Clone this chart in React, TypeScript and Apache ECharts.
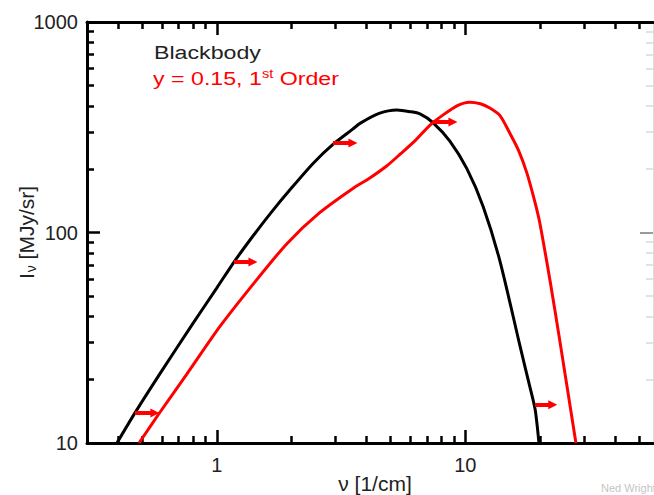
import React, { useEffect, useRef } from "react";
import * as echarts from "echarts";

// ---- data ----
const blackbodyNu = [0.396, 0.468, 0.6, 0.8, 1.0, 1.172, 1.4, 1.65, 2.0, 2.45, 2.934, 3.5, 3.77, 4.5, 5.31, 6.0, 6.57, 7.41, 8.67, 10.15, 11.8, 13.8, 16.6, 18.0, 19.1, 19.8];
const blackbodyI = [10, 13.9, 22.0, 36.9, 54.6, 72.4, 96.5, 124, 163, 214, 262, 308, 330, 368, 382, 375, 366, 333, 272, 201, 133, 73, 29, 19.5, 14.5, 10];

const szNu = [0.486, 0.59, 0.758, 1.029, 1.411, 1.914, 2.6, 3.53, 4.1, 4.84, 5.5, 6.3, 7.2, 8.2, 9.3, 10.4, 11.5, 12.56, 13.8, 15.1, 16.4, 17.7, 19.0, 19.96, 22.0, 24.1, 27.9];
const szI = [10, 14.0, 21.3, 35.8, 57.5, 88.5, 124.5, 162, 180.5, 207.5, 237, 274, 323, 364, 401, 416, 409, 390, 359, 297, 245, 192, 142, 111, 58, 29.9, 10];

const arrowStartNu = [0.468, 1.172, 2.934, 7.41, 19.1];
const arrowEndNu = [0.563, 1.397, 3.53, 8.92, 22.5];
const arrowI = [13.9, 72.4, 266, 335, 15.2];

const xLabelValues = [1, 10];
const yLabelValues = [10, 100, 1000];
const xMajorTicks = [1, 10];
const xMinorTicks = [0.4, 0.5, 0.6, 0.7, 0.8, 0.9, 2, 3, 4, 5, 6, 7, 8, 9, 20, 30, 40, 50];
const yMajorTicks = [100];
const yMinorTicks = [20, 30, 40, 50, 60, 70, 80, 90, 200, 300, 400, 500, 600, 700, 800, 900];

const X_MIN = 0.3;
const X_MAX = 57;
const Y_MIN = 10;
const Y_MAX = 1000;

const WIDTH = 654;
const HEIGHT = 495;
const GRID = { left: 87, top: 22, right: 1, bottom: 52 };

const FONT = "Liberation Sans, Arial, Helvetica, sans-serif";

function matchLabel(list: number[], v: number) {
  const hit = list.find((t) => Math.abs(t - v) / t < 1e-6);
  return hit !== undefined ? String(hit) : "";
}

function tickAxis(
  kind: "x" | "y",
  position: string,
  values: number[],
  len: number,
  color: string,
  width: number,
  line?: any
) {
  return {
    type: "log",
    min: kind === "x" ? X_MIN : Y_MIN,
    max: kind === "x" ? X_MAX : Y_MAX,
    position,
    offset: 0,
    splitLine: { show: false },
    minorTick: { show: false },
    axisLabel: { show: false },
    axisLine: line || { show: false },
    axisTick: {
      show: true,
      inside: true,
      length: len,
      customValues: values,
      lineStyle: { color, width },
    },
  };
}

export default function App() {
  const ref = useRef<HTMLDivElement>(null);

  useEffect(() => {
    if (!ref.current) return;
    const chart = echarts.init(ref.current, undefined, { renderer: "svg" });

    const blackLine = { show: true, lineStyle: { color: "#000", width: 3 } };

    const option: any = {
      animation: false,
      grid: { ...GRID, outerBoundsMode: "none" },
      xAxis: [
        {
          ...tickAxis("x", "bottom", xMajorTicks, 13, "#000", 2.5, blackLine),
          nameMoveOverlap: false,
          axisLabel: {
            show: true,
            showMinLabel: false,
            showMaxLabel: false,
            margin: 12,
            fontSize: 20,
            color: "#222",
            fontFamily: FONT,
            formatter: (v: number) => matchLabel(xLabelValues, v),
          },
          name: "ν [1/cm]",
          nameLocation: "middle",
          nameGap: 30,
          nameTextStyle: { fontSize: 21, color: "#222", fontFamily: FONT, padding: [0, 0, 0, 10] },
        },
        tickAxis("x", "top", xMajorTicks, 13, "#000", 2.5, blackLine),
        tickAxis("x", "bottom", xMinorTicks, 7, "#000", 2.5),
        tickAxis("x", "top", xMinorTicks, 7, "#000", 2.5),
      ],
      yAxis: [
        {
          ...tickAxis("y", "left", yMajorTicks, 13, "#000", 2.5, blackLine),
          nameMoveOverlap: false,
          axisLabel: {
            show: true,
            margin: 9,
            fontSize: 20,
            color: "#222",
            fontFamily: FONT,
            formatter: (v: number) => matchLabel(yLabelValues, v),
          },
          name: "{i|I}{sub|ν} [MJy/sr]",
          nameLocation: "middle",
          nameRotate: 90,
          nameGap: 49,
          nameTextStyle: {
            fontSize: 21,
            color: "#222",
            fontFamily: FONT,
            rich: {
              i: { fontSize: 21, color: "#222", fontFamily: FONT },
              sub: { fontSize: 14, color: "#222", fontFamily: FONT, padding: [10, 0, 0, 1] },
            },
          },
        },
        tickAxis("y", "right", yMajorTicks, 13, "#9a9a9a", 2, { show: true, lineStyle: { color: "#dcdcdc", width: 1 } }),
        tickAxis("y", "left", yMinorTicks, 7, "#000", 2.5),
        tickAxis("y", "right", yMinorTicks, 7, "#e2e2e2", 2),
      ],
      series: [
        {
          name: "Blackbody",
          type: "line",
          xAxisIndex: 0,
          yAxisIndex: 0,
          data: blackbodyNu.map((n, i) => [n, blackbodyI[i]]),
          smooth: 0.25,
          showSymbol: false,
          symbol: "none",
          lineStyle: { color: "#000", width: 3 },
          z: 3,
        },
        {
          name: "y = 0.15, 1st Order",
          type: "line",
          xAxisIndex: 0,
          yAxisIndex: 0,
          data: szNu.map((n, i) => [n, szI[i]]),
          smooth: 0.25,
          showSymbol: false,
          symbol: "none",
          lineStyle: { color: "#ff0000", width: 3 },
          z: 3,
        },
        {
          type: "lines",
          coordinateSystem: "cartesian2d",
          xAxisIndex: 0,
          yAxisIndex: 0,
          silent: true,
          z: 4,
          symbol: ["none", "triangle"],
          symbolSize: [10, 9],
          lineStyle: { color: "#ff0000", width: 4, opacity: 1, curveness: 0 },
          data: arrowI.map((I, i) => ({ coords: [[arrowStartNu[i], I], [arrowEndNu[i], I]] })),
        },
      ],
      graphic: [
        {
          type: "text",
          x: 154,
          y: 52,
          scaleX: 1.22,
          style: { text: "Blackbody", fontSize: 19, fontFamily: FONT, fill: "#222", align: "left", verticalAlign: "middle" },
        },
        {
          type: "text",
          x: 153,
          y: 78,
          scaleX: 1.22,
          style: {
            text: "y = 0.15, 1{sup|st} Order",
            fontSize: 19,
            fontFamily: FONT,
            fill: "#ff0000",
            align: "left",
            verticalAlign: "middle",
            rich: { sup: { fontSize: 12, fontFamily: FONT, fill: "#ff0000", padding: [0, 0, 9, 0] } },
          },
        },
        {
          type: "text",
          x: 601,
          y: 488,
          style: { text: "Ned Wright", fontSize: 11, fontFamily: FONT, fill: "#c4c4c4", align: "left", verticalAlign: "middle" },
        },
      ],
    };

    chart.setOption(option);
    return () => chart.dispose();
  }, []);

  return (
    <div
      ref={ref}
      style={{ position: "fixed", left: 0, top: 0, width: WIDTH, height: HEIGHT, background: "#fff" }}
    />
  );
}
